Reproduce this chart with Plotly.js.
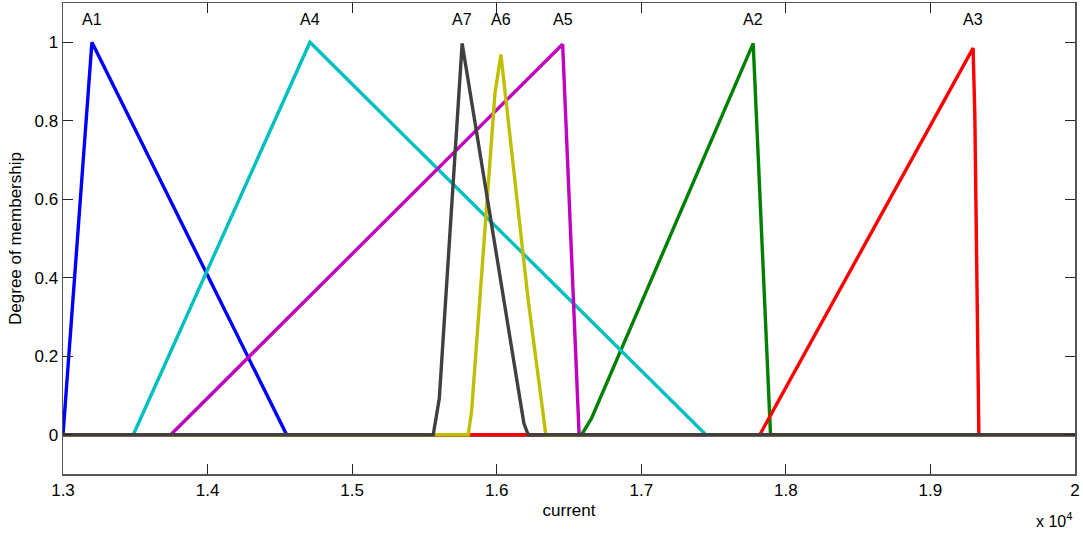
<!DOCTYPE html>
<html>
<head>
<meta charset="utf-8">
<script src="https://cdn.plot.ly/plotly-3.0.1.min.js"></script>
<style>html,body{margin:0;padding:0;background:#fff;}#chart{width:1083px;height:533px;}</style>
</head>
<body>
<div id="chart"></div>
<script>
// Membership functions (x = current, y = degree of membership)
const names = ["A1", "A2", "A3", "A4", "A5", "A6", "A7"];
const colors = ["#0000ff", "#008000", "#ff0000", "#00bfbf", "#bf00bf", "#bfbf00", "#404040"];

const a1x = [13000, 13200, 14547, 20000];
const a1y = [0, 1, 0, 0];
const a2x = [13000, 16587, 16656, 17774, 17894, 20000];
const a2y = [0, 0, 0.042, 0.997, 0, 0];
const a3x = [13000, 17820, 19295, 19307, 19335, 20000];
const a3y = [0, 0, 0.985, 0.818, 0, 0];
const a4x = [13000, 13486, 14708, 17447, 20000];
const a4y = [0, 0, 1, 0, 0];
const a5x = [13000, 13745, 16456, 16570, 20000];
const a5y = [0, 0, 0.995, 0, 0];
const a6x = [13000, 15803, 15826, 15884, 15988, 16029, 16218, 16340, 20000];
const a6y = [0, 0, 0.059, 0.342, 0.87, 0.969, 0.342, 0, 0];
const a7x = [13000, 15561, 15603, 15761, 16188, 16218, 20000];
const a7y = [0, 0, 0.093, 0.997, 0.029, 0, 0];

// label positions (peak of each function)
const labelX = [13200, 17774, 19295, 14708, 16456, 16029, 15761];
const labelY = 1.057;

const xTickVals = [13000, 14000, 15000, 16000, 17000, 18000, 19000, 20000];
const xTickText = ["1.3", "1.4", "1.5", "1.6", "1.7", "1.8", "1.9", "2"];
const yTickVals = [0, 0.2, 0.4, 0.6, 0.8, 1];
const yTickText = ["0", "0.2", "0.4", "0.6", "0.8", "1"];

const xs = [a1x, a2x, a3x, a4x, a5x, a6x, a7x];
const ys = [a1y, a2y, a3y, a4y, a5y, a6y, a7y];

const traces = names.map((n, i) => ({
  x: xs[i], y: ys[i], name: n, type: "scatter", mode: "lines",
  line: {color: colors[i], width: 3.4},
  hoverinfo: "x+y+name"
}));

const font = {family: "Liberation Sans, Arial, sans-serif", color: "#000"};

const annotations = names.map((n, i) => ({
  x: labelX[i], y: labelY, xref: "x", yref: "y", text: n,
  showarrow: false, xanchor: "center", yanchor: "middle",
  font: Object.assign({size: 16}, font)
}));
annotations.push({
  x: 1, y: 0, xref: "paper", yref: "paper", xanchor: "right", yanchor: "top",
  yshift: -34, xshift: -1, showarrow: false,
  text: "x 10<sup>4</sup>", font: Object.assign({size: 16}, font)
});

const layout = {
  width: 1083, height: 533,
  margin: {l: 63, r: 8, t: 3, b: 59},
  paper_bgcolor: "#ffffff", plot_bgcolor: "#ffffff",
  showlegend: false,
  font: Object.assign({size: 17}, font),
  xaxis: {
    range: [13000, 20000], tickvals: xTickVals, ticktext: xTickText,
    ticks: "inside", ticklen: 10, tickcolor: "#262626", tickwidth: 1,
    showline: true, linecolor: "#555", linewidth: 1.5, mirror: "ticks",
    showgrid: false, zeroline: false,
    tickfont: Object.assign({size: 17}, font),
    title: {text: "current", font: Object.assign({size: 17}, font), standoff: 5}
  },
  yaxis: {
    range: [-0.1, 1.1], tickvals: yTickVals, ticktext: yTickText,
    ticks: "inside", ticklen: 10, tickcolor: "#262626", tickwidth: 1,
    showline: true, linecolor: "#555", linewidth: 1.5, mirror: "ticks",
    showgrid: false, zeroline: false,
    tickfont: Object.assign({size: 17}, font),
    title: {text: "Degree of membership", font: Object.assign({size: 17}, font), standoff: 8}
  },
  annotations: annotations
};

Plotly.newPlot("chart", traces, layout, {displayModeBar: false, staticPlot: true});
</script>
</body>
</html>
